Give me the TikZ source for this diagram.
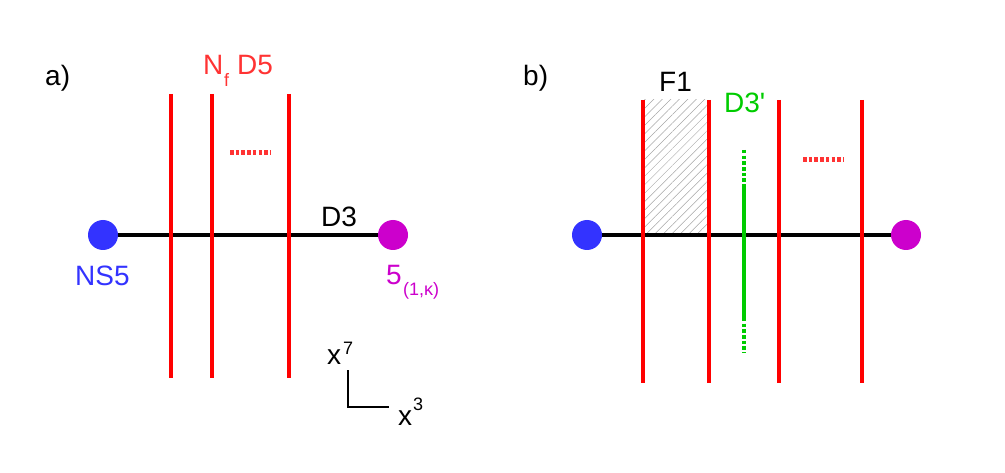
\documentclass[tikz,border=0pt]{standalone}
\usepackage{fontspec}
\setmainfont{Liberation Sans}
\newfontfamily\plainfont{Liberation Sans}
\usetikzlibrary{patterns.meta}
\definecolor{dred}{HTML}{FF0000}
\definecolor{tred}{HTML}{FF3333}
\definecolor{nsblue}{HTML}{3333FF}
\definecolor{mag}{HTML}{CC00CC}
\definecolor{dgreen}{HTML}{00CC00}
\begin{document}
\begin{tikzpicture}[x=1pt,y=-1pt,
  brane/.style={draw=dred,line width=4.5pt},
  dthree/.style={draw=black,line width=4pt},
  dots/.style={line width=5pt,dash pattern=on 3.5pt off 2.2pt},
  lab/.style={inner sep=0pt,anchor=base west,font=\fontsize{28}{30}\selectfont},
  sub/.style={inner sep=0pt,anchor=base west,font=\fontsize{18}{20}\selectfont},
  ball/.style={circle,inner sep=0pt,minimum size=30pt}]
\useasboundingbox (0,0) rectangle (1005,473);
% ---------- panel a ----------
\node[lab] (la) at (45,86) {a)};
\coordinate (a1) at (103,235);
\coordinate (a2) at (393,235);
\draw[dthree] (a1) -- (a2);
\foreach \x/\n in {171/p, 212/q, 289/r}{
  \coordinate (t\n) at (\x,94);
  \coordinate (b\n) at (\x,378);
  \draw[brane] (t\n) -- (b\n);
}
\coordinate (ad1) at (230,153);
\coordinate (ad2) at (271,153);
\draw[dots,draw=tred] (ad1) -- (ad2);
\node[ball,fill=nsblue] (nsa) at (a1) {};
\node[ball,fill=mag] (ma) at (a2) {};
\node[lab,text=tred] (nf) at (203,75) {N};
\node[sub,text=tred] (nfs) at (224,87) {f};
\node[lab,text=tred] (d5) at (237,75) {D5};
\node[lab] (d3) at (321,227) {D3};
\node[lab,text=nsblue] (ns5) at (75,286) {NS5};
\node[lab,text=mag] (five) at (386,285) {5};
\node[sub,text=mag] (fives) at (403,296) {(1,κ)};
% axes
\coordinate (ax0) at (348,407);
\coordinate (ax7) at (348,370);
\coordinate (ax3) at (389,407);
\draw[line width=1.3pt] (ax7) -- (ax0) -- (ax3);
\node[lab] (x7) at (327,365) {x};
\node[sub] (x7s) at (343,355) {7};
\node[lab] (x3) at (398,425) {x};
\node[sub] (x3s) at (413,410) {3};
% ---------- panel b ----------
\node[lab] (lb) at (523,86) {b)};
\coordinate (b1) at (587,235);
\coordinate (b2) at (906,235);
\fill[pattern={Lines[angle=45,distance=6pt,line width=0.5pt]},pattern color=gray!70] (643,100) rectangle (709,235);
\draw[dthree] (b1) -- (b2);
\foreach \x/\n in {643/s, 709/t, 779/u, 862/v}{
  \coordinate (t\n) at (\x,100);
  \coordinate (b\n) at (\x,383);
  \draw[brane] (t\n) -- (b\n);
}
\coordinate (g1) at (744,150);
\coordinate (g2) at (744,185);
\coordinate (g3) at (744,318);
\coordinate (g4) at (744,353);
\draw[dots,line width=4.5pt,draw=dgreen] (g1) -- (g2);
\draw[line width=4.5pt,draw=dgreen] (g2) -- (g3);
\draw[dots,line width=4.5pt,draw=dgreen] (g3) -- (g4);
\coordinate (bd1) at (803,160);
\coordinate (bd2) at (843,160);
\draw[dots,draw=tred] (bd1) -- (bd2);
\node[ball,fill=nsblue] (nsb) at (b1) {};
\node[ball,fill=mag] (mb) at (b2) {};
\node[lab] (f1) at (659,92) {F1};
\node[lab,text=dgreen,font=\fontsize{28}{30}\plainfont] (d3p) at (724,113) {D3'};
\end{tikzpicture}
\end{document}
